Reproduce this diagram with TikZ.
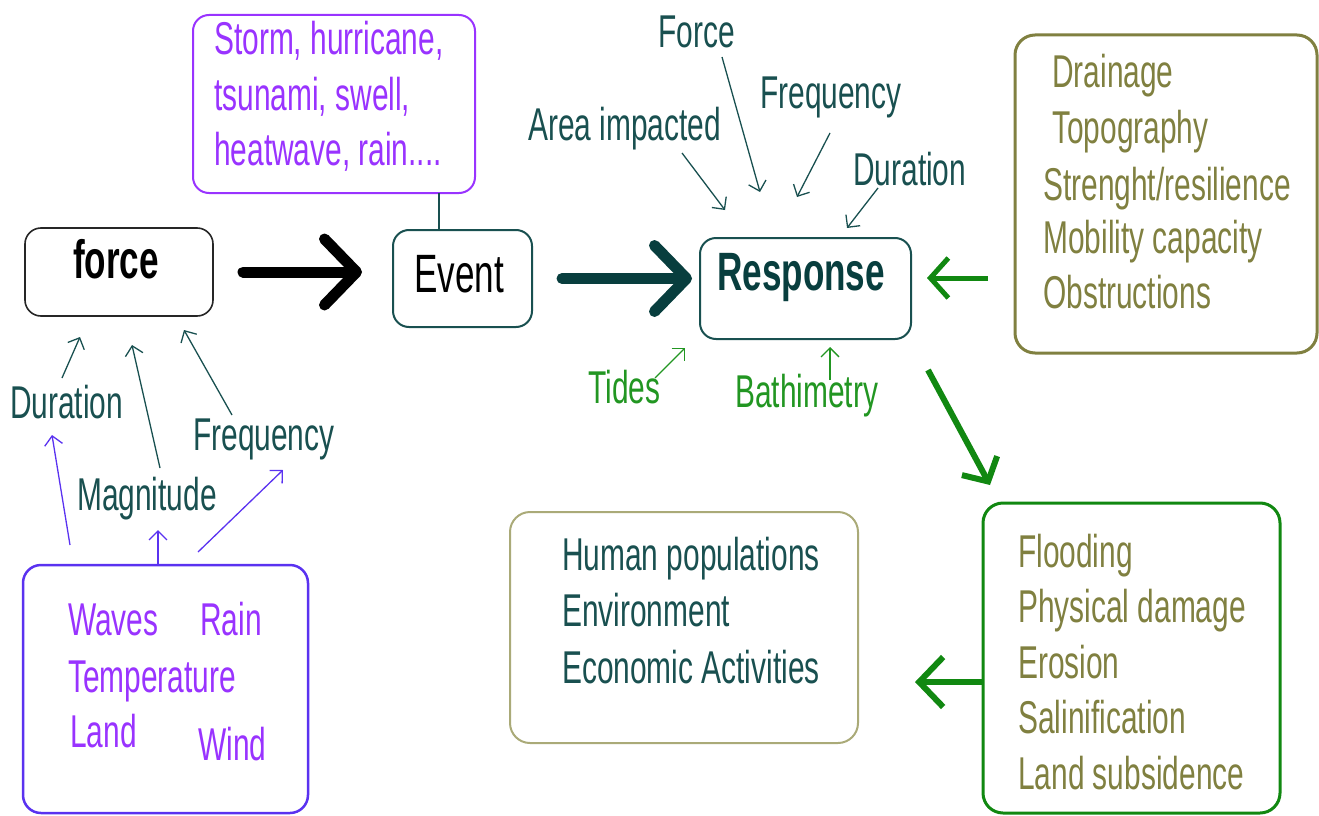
\documentclass[tikz,border=0pt]{standalone}
\usepackage{fontspec}
\setmainfont[FakeStretch=0.65]{Liberation Sans}
\usepackage{tikz}
\tikzset{>=latex}
\usetikzlibrary{arrows.meta}

\definecolor{labelteal}{RGB}{25,80,80}
\definecolor{darkteal}{RGB}{8,62,62}
\definecolor{stormpurple}{RGB}{153,51,255}
\definecolor{wavesblue}{RGB}{90,50,240}
\definecolor{shoreolive}{RGB}{128,128,64}
\definecolor{impactgreen}{RGB}{17,136,17}
\definecolor{tidegreen}{RGB}{34,150,34}
\definecolor{humankhaki}{RGB}{170,170,120}

\tikzset{
  box/.style={draw, rounded corners=16pt, inner sep=0pt, outer sep=0pt},
  txt/.style={anchor=base west, inner sep=0pt, font=\fontsize{46}{55}\selectfont},
  hint/.style={-{Straight Barb[length=9pt,width=18pt]}, line width=1.3pt},
  fat/.style={-{Straight Barb[length=32pt,width=66pt,round]}, line width=11pt, line cap=round},
  greenarrow/.style={-{Straight Barb[length=18pt,width=40pt]}, line width=5pt, draw=impactgreen}
}

\begin{document}
\begin{tikzpicture}[x=1pt, y=-1pt]
   \useasboundingbox (0,0) rectangle (1319,816);

   % boxes
   \node[box, draw=stormpurple, line width=2pt, minimum width=282pt, minimum height=178pt] (storm) at (334,104) {};
   \node[box, draw=black!85, line width=1.6pt, minimum width=188pt, minimum height=88pt] (force) at (119,272) {};
   \node[box, draw=labelteal, line width=2pt, minimum width=139pt, minimum height=97pt] (event) at (462.5,278.5) {};
   \node[box, draw=labelteal, line width=2pt, minimum width=211pt, minimum height=101pt] (response) at (805.5,288.5) {};
   \node[box, draw=shoreolive, line width=3pt, rounded corners=20pt, minimum width=302pt, minimum height=318pt] (obst) at (1166,194) {};
   \node[box, draw=impactgreen, line width=3pt, rounded corners=20pt, minimum width=297pt, minimum height=310pt] (impacts) at (1131.5,658) {};
   \node[box, draw=humankhaki, line width=2pt, rounded corners=20pt, minimum width=348pt, minimum height=231pt] (human) at (684,627.5) {};
   \node[box, draw=wavesblue, line width=2.5pt, rounded corners=18pt, minimum width=285pt, minimum height=248pt] (waves) at (165.5,689) {};

   % box texts
   \node[txt, stormpurple] (stormA) at (214,55) {Storm, hurricane,};
   \node[txt, stormpurple] (stormB) at (214,110) {tsunami, swell,};
   \node[txt, stormpurple] (stormC) at (214,165) {heatwave, rain....};
   \node[txt, font=\fontsize{54}{60}\selectfont\bfseries] (forceT) at (73,278) {force};
   \node[txt, font=\fontsize{54}{60}\selectfont] (eventT) at (414,292) {Event};
   \node[txt, darkteal, font=\fontsize{54}{60}\selectfont\bfseries] (responseT) at (717,290) {Response};

   \node[txt, shoreolive] (drain) at (1052,88) {Drainage};
   \node[txt, shoreolive] (topo) at (1052,143) {Topography};
   \node[txt, shoreolive] (streng) at (1043,200) {Strenght/resilience};
   \node[txt, shoreolive] (mobil) at (1043,253) {Mobility capacity};
   \node[txt, shoreolive] (obstr) at (1043,308) {Obstructions};

   \foreach \t [count=\i from 0] in {Flooding, Physical damage, Erosion, Salinification, Land subsidence}{
       \node[txt, shoreolive] (imp\i) at (1018,567+55.5*\i) {\t};
   }
   \foreach \t [count=\i from 0] in {Human populations, Environment, Economic Activities}{
       \node[txt, labelteal] (hum\i) at (562,570+56.5*\i) {\t};
   }

   \node[txt, stormpurple] (wavesT) at (68,635) {Waves};
   \node[txt, stormpurple] (rainT) at (200,635) {Rain};
   \node[txt, stormpurple] (tempT) at (68,692) {Temperature};
   \node[txt, stormpurple] (landT) at (70,747) {Land};
   \node[txt, stormpurple] (windT) at (198,760) {Wind};

   % labels
   \node[txt, labelteal] (fdur) at (10,418) {Duration};
   \node[txt, labelteal] (fmag) at (77,510) {Magnitude};
   \node[txt, labelteal] (ffreq) at (193,450) {Frequency};
   \node[txt, labelteal] (rforce) at (658,48) {Force};
   \node[txt, labelteal] (rarea) at (528,140) {Area impacted};
   \node[txt, labelteal] (rfreq) at (760,108) {Frequency};
   \node[txt, labelteal] (rdur) at (853,185) {Duration};
   \node[txt, tidegreen] (tides) at (588,403) {Tides};
   \node[txt, tidegreen] (bathy) at (735,407) {Bathimetry};

   % arrow ends
   \coordinate (fdurA) at (62,378);   \coordinate (fdurB) at (80,337);
   \coordinate (fmagA) at (160,468);  \coordinate (fmagB) at (132,345);
   \coordinate (ffreqA) at (232,415); \coordinate (ffreqB) at (184,330);
   \coordinate (wdurA) at (70,545);   \coordinate (wdurB) at (52,435);
   \coordinate (wmagB) at (158,530);
   \coordinate (wfreqA) at (198,552); \coordinate (wfreqB) at (283,470);
   \coordinate (rforceA) at (722,57); \coordinate (rforceB) at (760,192);
   \coordinate (rareaA) at (682,153); \coordinate (rareaB) at (725,210);
   \coordinate (rfreqA) at (830,133); \coordinate (rfreqB) at (797,197);
   \coordinate (rdurA) at (878,188);  \coordinate (rdurB) at (847,228);
   \coordinate (tidesA) at (655,378); \coordinate (tidesB) at (685,348);
   \coordinate (bathyA) at (830,380); \coordinate (bathyB) at (830,347);
   \coordinate (stormtail) at (439,193);
   \coordinate (obstA) at (988,278);  \coordinate (obstB) at (927,278);
   \coordinate (diagA) at (928,370);  \coordinate (diagB) at (990,485);
   \coordinate (humanB) at (915,682);

   % thin arrows
   \draw[hint, labelteal] (fdurA) -- (fdurB);
   \draw[hint, labelteal] (fmagA) -- (fmagB);
   \draw[hint, labelteal] (ffreqA) -- (ffreqB);
   \draw[hint, wavesblue] (wdurA) -- (wdurB);
   \draw[hint, wavesblue] ([xshift=-7.5pt]waves.north) -- (wmagB);
   \draw[hint, wavesblue] (wfreqA) -- (wfreqB);
   \draw[hint, labelteal] (rforceA) -- (rforceB);
   \draw[hint, labelteal] (rareaA) -- (rareaB);
   \draw[hint, labelteal] (rfreqA) -- (rfreqB);
   \draw[hint, labelteal] (rdurA) -- (rdurB);
   \draw[hint, tidegreen] (tidesA) -- (tidesB);
   \draw[hint, tidegreen] (bathyA) -- (bathyB);

   % main flow
   \draw[labelteal, line width=2pt] (stormtail) -- (stormtail |- event.north);
   \draw[fat, black] ([xshift=30pt]force.east) -- ([xshift=-31pt]force.east -| event.west);
   \draw[fat, darkteal] ([xshift=30pt]event.east) -- ([xshift=-8pt]event.east -| response.west);
   \draw[greenarrow] (obstA) -- (obstB);
   \draw[greenarrow, line width=6pt] (diagA) -- (diagB);
   \draw[greenarrow, line width=6pt, -{Straight Barb[length=24pt,width=50pt]}] (humanB -| impacts.west) -- (humanB);
\end{tikzpicture}
\end{document}
